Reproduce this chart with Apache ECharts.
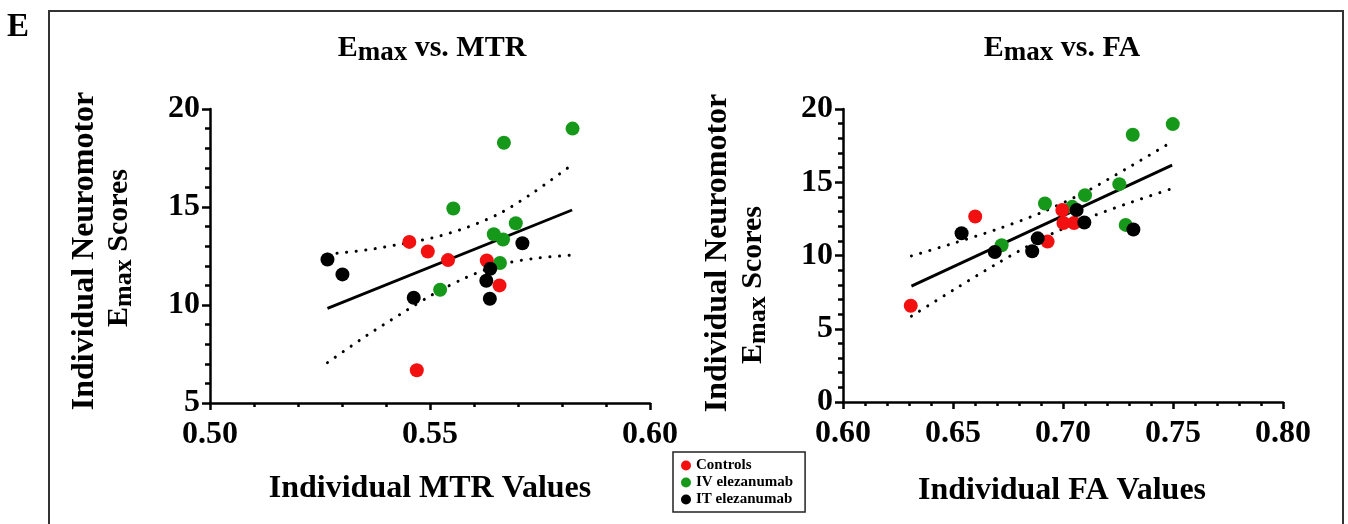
<!DOCTYPE html>
<html>
<head>
<meta charset="utf-8">
<script src="https://cdn.jsdelivr.net/npm/echarts@6/dist/echarts.min.js"></script>
<style>
html,body{margin:0;padding:0;background:#fff;}
#chart{width:1348px;height:524px;}
</style>
</head>
<body>
<div id="chart"></div>
<script>
// ---------- Data ----------
// Panel 1: Emax vs. MTR
const mtrControlsX = [0.5453, 0.5495, 0.5541, 0.5629, 0.5658, 0.5470];
const mtrControlsY = [13.22, 12.73, 12.29, 12.27, 11.00, 6.67];
const mtrIVX = [0.5824, 0.5668, 0.5553, 0.5695, 0.5645, 0.5666, 0.5659, 0.5523];
const mtrIVY = [19.00, 18.28, 14.92, 14.17, 13.61, 13.34, 12.14, 10.78];
const mtrITX = [0.5267, 0.5301, 0.5710, 0.5637, 0.5628, 0.5636, 0.5463];
const mtrITY = [12.32, 11.56, 13.15, 11.85, 11.24, 10.32, 10.37];
const mtrFitX = [0.5267, 0.5823];
const mtrFitY = [9.83, 14.85];
const mtrBandX = [0.5267, 0.5356, 0.5432, 0.5508, 0.5583, 0.5659, 0.5735, 0.5820];
const mtrBandUpper = [12.59, 12.81, 13.10, 13.44, 13.95, 14.68, 15.74, 17.11];
const mtrBandLower = [7.06, 8.44, 9.52, 10.56, 11.41, 12.05, 12.37, 12.54];

// Panel 2: Emax vs. FA
const faControlsX = [0.6308, 0.6601, 0.6997, 0.7002, 0.7050, 0.6930];
const faControlsY = [6.57, 12.66, 13.11, 12.22, 12.22, 10.95];
const faIVX = [0.7499, 0.7317, 0.7256, 0.7100, 0.6918, 0.7042, 0.7285, 0.6721];
const faIVY = [18.97, 18.24, 14.87, 14.12, 13.55, 13.32, 12.09, 10.70];
const faITX = [0.6539, 0.6690, 0.6860, 0.6885, 0.7062, 0.7097, 0.7320];
const faITY = [11.52, 10.24, 10.29, 11.17, 13.11, 12.25, 11.77];
const faFitX = [0.6311, 0.7496];
const faFitY = [7.91, 16.17];
const faBandX = [0.6311, 0.6501, 0.6698, 0.6895, 0.7093, 0.7290, 0.7496];
const faBandUpper = [9.97, 10.83, 11.78, 12.89, 14.27, 15.94, 17.77];
const faBandLower = [5.86, 7.64, 9.43, 11.08, 12.44, 13.53, 14.57];

// Axis definitions
const mtrXRange = [0.50, 0.60];
const mtrYRange = [5, 20];
const faXRange = [0.60, 0.80];
const faYRange = [0, 20];

const groupNames = ['Controls', 'IV elezanumab', 'IT elezanumab'];
const titles = ['MTR', 'FA'];
const xNames = ['Individual MTR Values', 'Individual FA Values'];

// ---------- Styling ----------
const FONT = "'Liberation Serif', 'Times New Roman', serif";
const RED = '#f21010';
const GREEN = '#16991a';
const BLACK = '#000000';

function zip(xs, ys) { return xs.map((x, i) => [x, ys[i]]); }

const measureCtx = document.createElement('canvas').getContext('2d');
function textWidth(text, size) {
  measureCtx.font = 'bold ' + size + 'px ' + FONT;
  return measureCtx.measureText(text).width;
}
// Text made of pieces (main text + lowered subscript), centred at (cx, cy)
function pieceText(cx, cy, rotation, pieces) {
  const widths = pieces.map(p => textWidth(p.t, p.size));
  const total = widths.reduce((a, b) => a + b, 0);
  let x = -total / 2;
  const children = pieces.map((p, i) => {
    const el = { type: 'text', x: x, y: p.dy,
      style: { text: p.t, fontFamily: FONT, fontWeight: 'bold', fontSize: p.size, fill: '#000',
        align: 'left', verticalAlign: 'middle' } };
    x += widths[i];
    return el;
  });
  return { type: 'group', x: cx, y: cy, rotation: rotation, children: children };
}

function makeX(idx, range) {
  return {
    type: 'value', gridIndex: idx, min: range[0], max: range[1], interval: 0.05,
    axisLine: { show: true, onZero: false, lineStyle: { color: '#000', width: 2.5 } },
    axisTick: { show: true, length: 7, lineStyle: { color: '#000', width: 2.5 } },
    minorTick: { show: true, splitNumber: 5, length: 4, lineStyle: { color: '#000', width: 2.5 } },
    splitLine: { show: false },
    axisLabel: { margin: 16, color: '#000', fontFamily: FONT, fontWeight: 'bold', fontSize: 32,
      formatter: v => v.toFixed(2) }
  };
}
function makeY(idx, range) {
  return {
    type: 'value', gridIndex: idx, min: range[0], max: range[1], interval: 5,
    axisLine: { show: true, onZero: false, lineStyle: { color: '#000', width: 2.5 } },
    axisTick: { show: true, length: 8, lineStyle: { color: '#000', width: 2.5 } },
    minorTick: { show: true, splitNumber: 5, length: 5, lineStyle: { color: '#000', width: 2.5 } },
    splitLine: { show: false },
    axisLabel: { margin: 10, color: '#000', fontFamily: FONT, fontWeight: 'bold', fontSize: 32 }
  };
}
function scatter(name, color, xs, ys, idx) {
  return {
    name: name, type: 'scatter', xAxisIndex: idx, yAxisIndex: idx,
    data: zip(xs, ys), symbolSize: 14, itemStyle: { color: color, opacity: 1 }, z: 5
  };
}
function line(xs, ys, idx, dotted) {
  return {
    type: 'line', xAxisIndex: idx, yAxisIndex: idx, data: zip(xs, ys),
    showSymbol: false, symbol: 'none', smooth: dotted ? 0.3 : false, silent: true, z: 3,
    lineStyle: dotted
      ? { color: '#000', width: 3, type: [0.1, 9.5], cap: 'round' }
      : { color: '#000', width: 2.8 }
  };
}

function titleText(x, y, word) {
  return pieceText(x, y, 0, [
    { t: 'E', size: 30, dy: 0 },
    { t: 'max', size: 27, dy: 5 },
    { t: ' vs. ' + word, size: 30, dy: 0 }
  ]);
}
function yName(x1, y1, x2, y2) {
  return [
    { type: 'text', x: x1, y: y1, rotation: Math.PI / 2,
      style: { text: 'Individual Neuromotor', fontFamily: FONT, fontWeight: 'bold', fontSize: 32,
        fill: '#000', align: 'center', verticalAlign: 'middle' } },
    pieceText(x2, y2, Math.PI / 2, [
      { t: 'E', size: 30, dy: 0 },
      { t: 'max', size: 26, dy: 5 },
      { t: ' Scores', size: 30, dy: 0 }
    ])
  ];
}
function xName(x, y, text) {
  return { type: 'text', x: x, y: y,
    style: { text: text, fontFamily: FONT, fontWeight: 'bold', fontSize: 32, fill: '#000',
      align: 'center', verticalAlign: 'middle' } };
}

const chart = echarts.init(document.getElementById('chart'), null, { renderer: 'canvas' });
chart.setOption({
  animation: false,
  backgroundColor: '#fff',
  grid: [
    { left: 210, top: 109, width: 440, height: 294 },
    { left: 843, top: 109, width: 440, height: 293 }
  ],
  xAxis: [makeX(0, mtrXRange), makeX(1, faXRange)],
  yAxis: [makeY(0, mtrYRange), makeY(1, faYRange)],
  legend: {
    data: groupNames, orient: 'vertical', left: 673, top: 452,
    padding: [6, 12, 5, 8], itemGap: 2, itemWidth: 10, itemHeight: 10, icon: 'circle',
    borderColor: '#222', borderWidth: 1.5, selectedMode: false,
    textStyle: { fontFamily: FONT, fontWeight: 'bold', fontSize: 15, color: '#000', lineHeight: 15 }
  },
  series: [
    line(mtrBandX, mtrBandUpper, 0, true),
    line(mtrBandX, mtrBandLower, 0, true),
    line(mtrFitX, mtrFitY, 0, false),
    scatter(groupNames[1], GREEN, mtrIVX, mtrIVY, 0),
    scatter(groupNames[0], RED, mtrControlsX, mtrControlsY, 0),
    scatter(groupNames[2], BLACK, mtrITX, mtrITY, 0),
    line(faBandX, faBandUpper, 1, true),
    line(faBandX, faBandLower, 1, true),
    line(faFitX, faFitY, 1, false),
    scatter(groupNames[1], GREEN, faIVX, faIVY, 1),
    scatter(groupNames[0], RED, faControlsX, faControlsY, 1),
    scatter(groupNames[2], BLACK, faITX, faITY, 1)
  ],
  graphic: [
    { type: 'rect', shape: { x: 49, y: 11, width: 1294, height: 600 },
      style: { fill: 'none', stroke: '#333', lineWidth: 2 }, silent: true },
    { type: 'text', x: 18, y: 27,
      style: { text: 'E', fontFamily: FONT, fontWeight: 'bold', fontSize: 33, fill: '#000',
        align: 'center', verticalAlign: 'middle' } },
    titleText(432, 48, titles[0]),
    titleText(1062, 48, titles[1]),
    ...yName(85, 251, 119, 248),
    ...yName(718, 253, 753, 285),
    xName(430, 489, xNames[0]),
    xName(1062, 491, xNames[1])
  ]
});
</script>
</body>
</html>
